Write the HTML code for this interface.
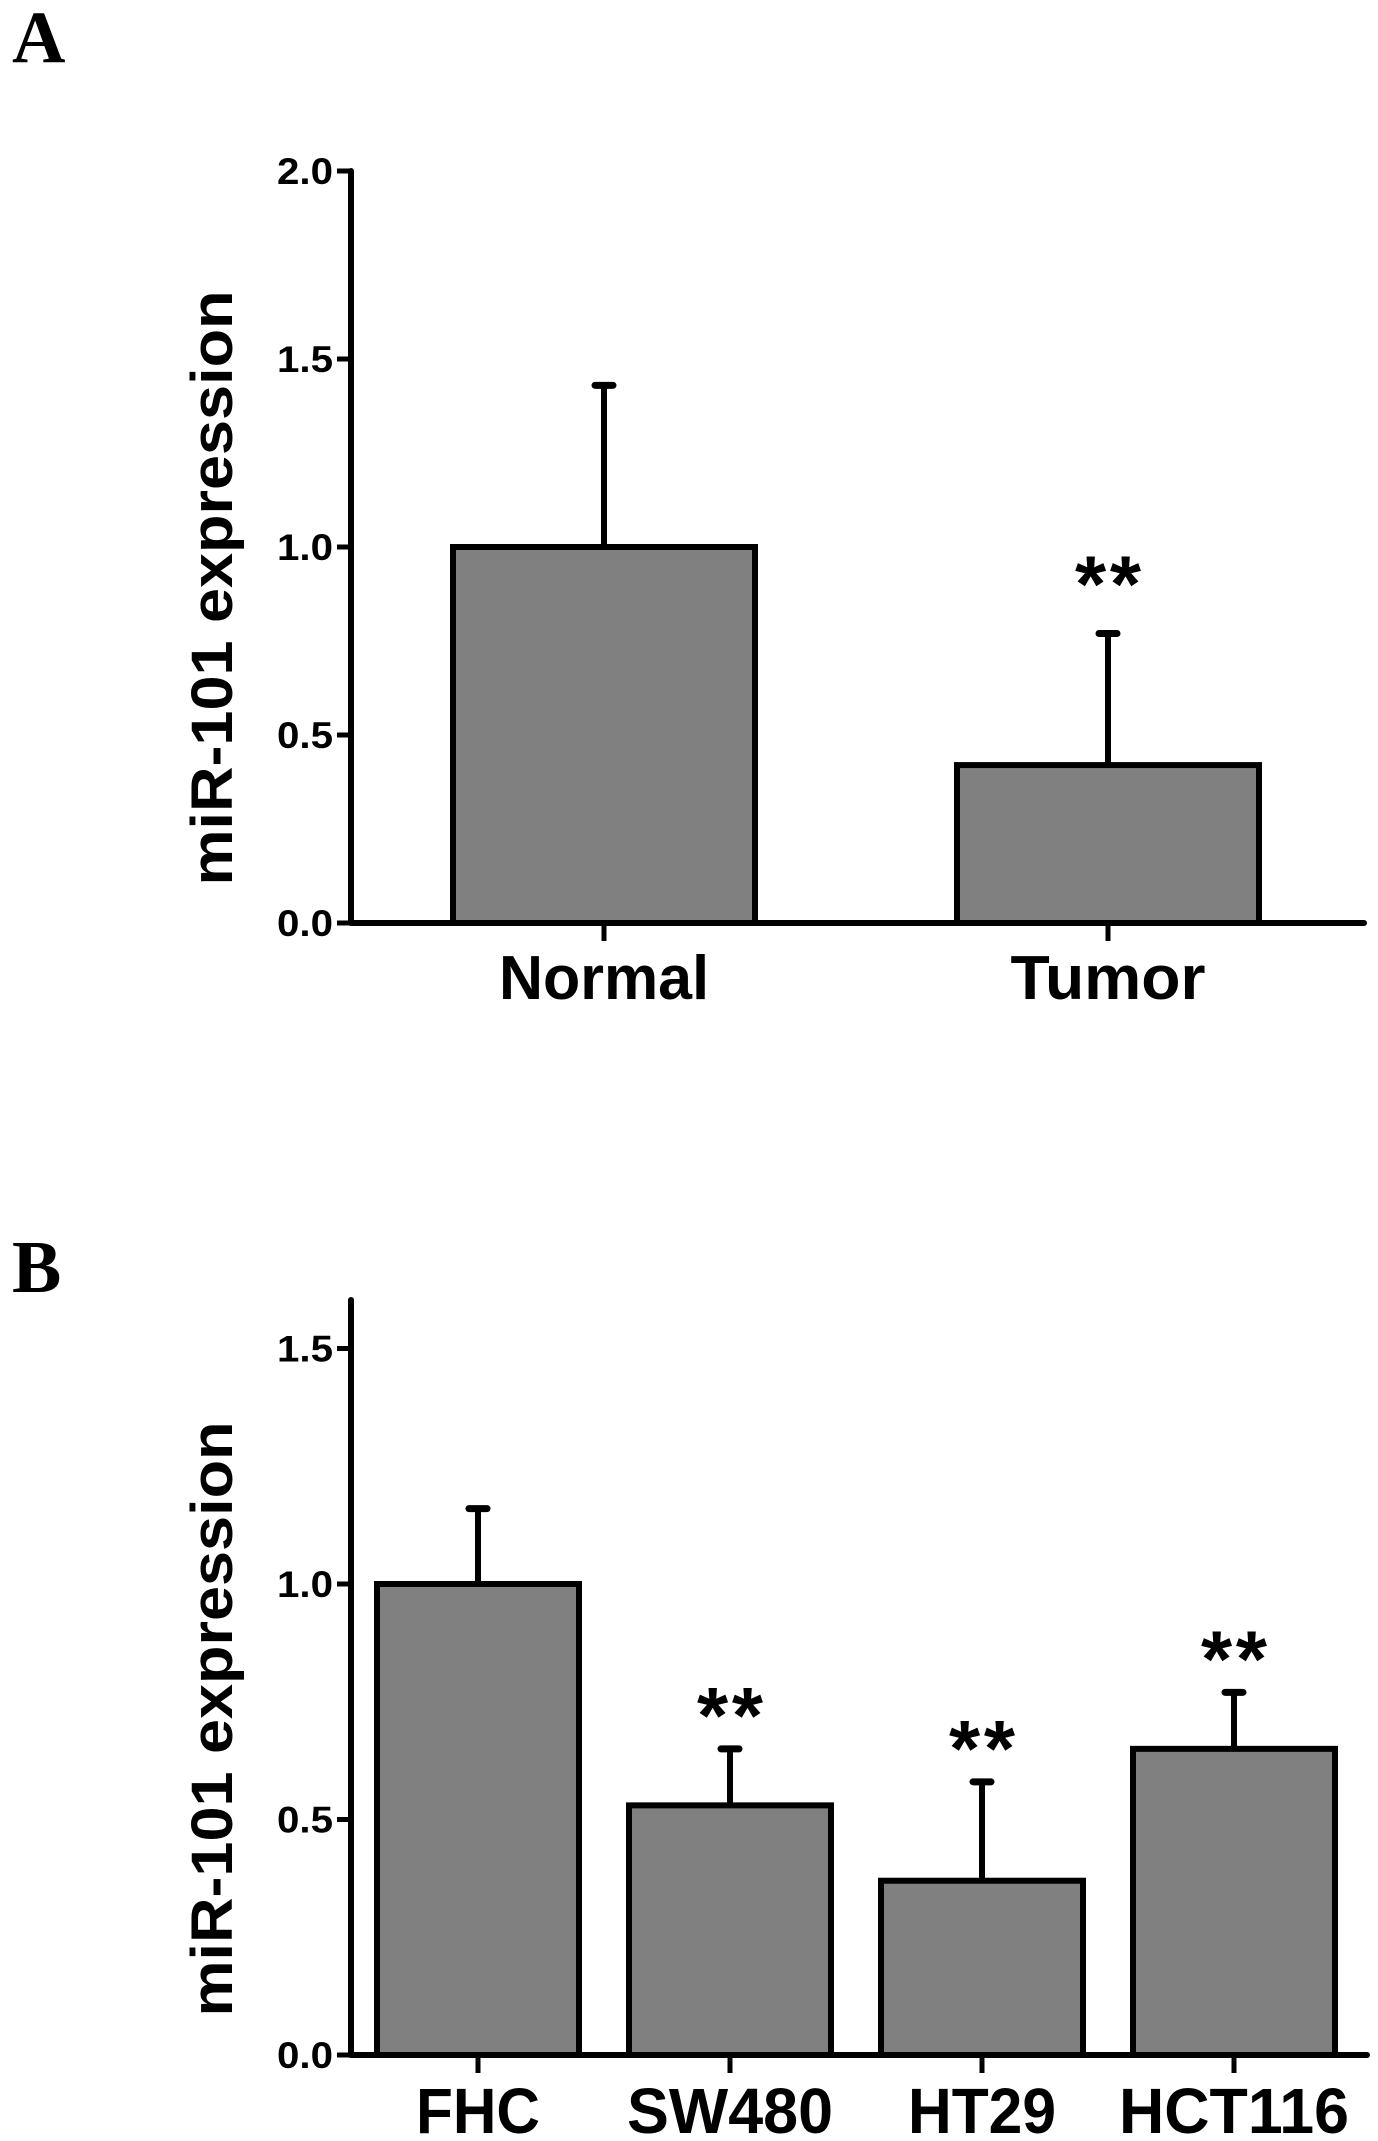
<!DOCTYPE html>
<html><head><meta charset="utf-8"><style>
html,body{margin:0;padding:0;background:#fff;}
svg{display:block;}
text{font-family:"Liberation Sans",Arial,sans-serif;font-weight:bold;fill:#000;}
.pl{font-family:"Liberation Serif",serif;}
</style></head><body>
<svg id="fig" width="1378" height="2141" viewBox="0 0 1378 2141" xmlns="http://www.w3.org/2000/svg">
<text class="pl" x="12" y="62" font-size="74">A</text>
<text class="pl" x="12" y="1292" font-size="74">B</text>
<g id="chartA"></g>
<g id="chartB"></g>
</svg>
<script>
const aCategories = ["Normal", "Tumor"];
const aValues = [1.0, 0.42];
const aErrors = [0.43, 0.35];
const aStars = ["", "**"];
const aTicks = [0, 0.5, 1.0, 1.5, 2.0];
const aTickLabels = ["0.0", "0.5", "1.0", "1.5", "2.0"];

const bCategories = ["FHC", "SW480", "HT29", "HCT116"];
const bValues = [1.0, 0.53, 0.37, 0.65];
const bErrors = [0.16, 0.12, 0.21, 0.12];
const bStars = ["", "**", "**", "**"];
const bTicks = [0, 0.5, 1.0, 1.5];
const bTickLabels = ["0.0", "0.5", "1.0", "1.5"];

const NS = "http://www.w3.org/2000/svg";
function mk(parent, tag, attrs) {
  const e = document.createElementNS(NS, tag);
  for (const k in attrs) e.setAttribute(k, attrs[k]);
  parent.appendChild(e);
  return e;
}

function drawChart(g, cfg) {
  const y = v => cfg.y0 - v * cfg.unit;
  const x = i => cfg.c0 + i * cfg.step;
  const ya = mk(g, "line", {x1: cfg.ax, y1: cfg.axTop, x2: cfg.ax, y2: cfg.y0, stroke: "#000", "stroke-width": 6, "stroke-linecap": "round"});
  
  
  cfg.ticks.forEach((t, i) => {
    const tl = mk(g, "line", {x1: cfg.ax - 14, y1: y(t), x2: cfg.ax, y2: y(t), stroke: "#000", "stroke-width": 5});
    
    
    const tx = mk(g, "text", {x: cfg.ax - 18, y: y(t) + 13, "font-size": 37, "text-anchor": "end", textLength: 56, lengthAdjust: "spacingAndGlyphs"});
    tx.textContent = cfg.tickLabels[i];
    
    
  });
  cfg.values.forEach((v, i) => {
    const cx = x(i);
    const er = mk(g, "line", {x1: cx, y1: y(v), x2: cx, y2: y(v + cfg.errors[i]), stroke: "#000", "stroke-width": 6});
    
    
    const cap = mk(g, "line", {x1: cx - 9, y1: y(v + cfg.errors[i]), x2: cx + 9, y2: y(v + cfg.errors[i]), stroke: "#000", "stroke-width": 7, "stroke-linecap": "round"});
    
    
    const r = mk(g, "rect", {x: cx - cfg.bw / 2, y: y(v), width: cfg.bw, height: cfg.y0 - y(v), fill: "#808080", stroke: "#000", "stroke-width": 6});
    
    
    const bt = mk(g, "line", {x1: cx, y1: cfg.y0, x2: cx, y2: cfg.y0 + 18, stroke: "#000", "stroke-width": 5});
    
    
    const lb = mk(g, "text", {x: cx, y: cfg.labelY, "font-size": cfg.labelSize, "text-anchor": "middle", textLength: cfg.labelW[i], lengthAdjust: "spacingAndGlyphs"});
    lb.textContent = cfg.cats[i];
    
    
    if (cfg.stars[i]) {
      const st = mk(g, "text", {x: cx, y: y(v + cfg.errors[i]) - cfg.starGap, "font-size": 80, "text-anchor": "middle", textLength: 66, lengthAdjust: "spacing"});
      st.textContent = cfg.stars[i];
      
      
    }
  });
  const xa = mk(g, "line", {x1: cfg.ax, y1: cfg.y0, x2: cfg.axRight, y2: cfg.y0, stroke: "#000", "stroke-width": 6, "stroke-linecap": "round"});
  
  
  const tt = mk(g, "text", {x: 0, y: 0, "font-size": 58, "text-anchor": "middle", textLength: 595, lengthAdjust: "spacingAndGlyphs", transform: "translate(232," + cfg.titleY + ") rotate(-90)"});
  tt.textContent = "miR-101 expression";
  
  
}

drawChart(document.getElementById("chartA"), {
  ax: 351, axTop: 171, y0: 923, unit: 376, axRight: 1364,
  c0: 604, step: 504, bw: 302,
  values: aValues, errors: aErrors, cats: aCategories, stars: aStars,
  ticks: aTicks, tickLabels: aTickLabels,
  labelY: 999, labelSize: 62, labelW: [210, 195], starGap: 22, titleY: 588
});
drawChart(document.getElementById("chartB"), {
  ax: 351, axTop: 1300, y0: 2055, unit: 471, axRight: 1367,
  c0: 478, step: 252, bw: 202,
  values: bValues, errors: bErrors, cats: bCategories, stars: bStars,
  ticks: bTicks, tickLabels: bTickLabels,
  labelY: 2133, labelSize: 64, labelW: [124, 206, 148, 230], starGap: 6, titleY: 1719
});
</script>
</body></html>
